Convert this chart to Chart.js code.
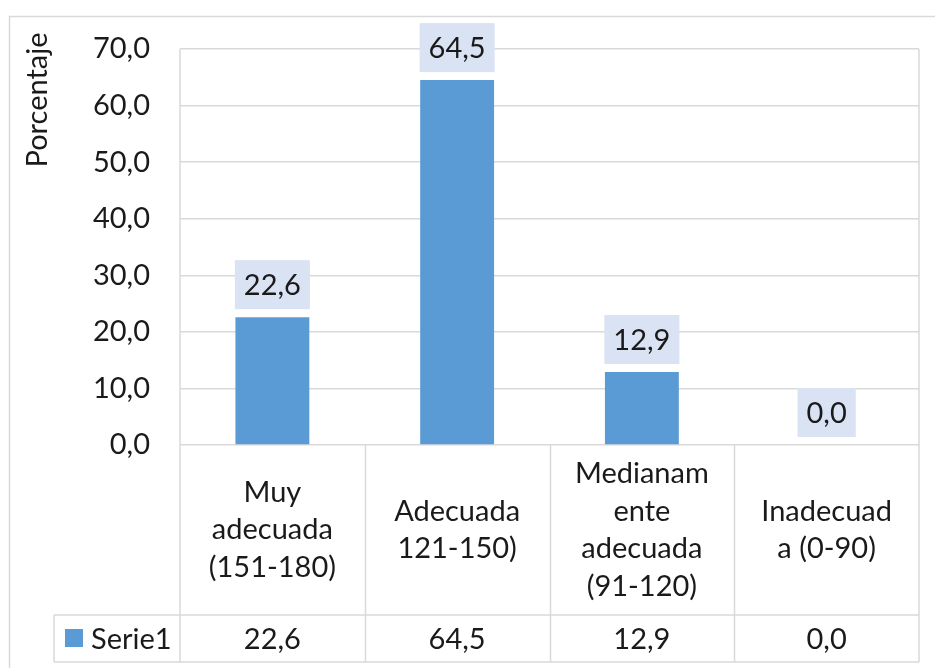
<!DOCTYPE html>
<html>
<head>
<meta charset="utf-8">
<script src="https://cdn.jsdelivr.net/npm/chart.js@4/dist/chart.umd.min.js"></script>
<style>
  body { margin: 0; background: #fff; }
  canvas { display: block; }
</style>
</head>
<body>
<canvas id="chart0" width="935" height="668"></canvas>
<script>
// datos del grafico
const categorias = ['Muy adecuada (151-180)', 'Adecuada 121-150)', 'Medianamente adecuada (91-120)', 'Inadecuada (0-90)'];
const lineasCategoria = [
    ['Muy', 'adecuada', '(151-180)'],
    ['Adecuada', '121-150)'],
    ['Medianam', 'ente', 'adecuada', '(91-120)'],
    ['Inadecuad', 'a (0-90)']
];
const serie1 = [22.6, 64.5, 12.9, 0.0];
const nombreSerie = 'Serie1';
const tituloEjeY = 'Porcentaje';

const FUENTE = 'Lato, "Open Sans", sans-serif';
const TAM = 29;
const GRIS = '#d9d9d9';
const TEXTO = '#1a1a1a';
const AZUL = '#5b9bd5';

const fmt = v => v.toFixed(1).replace('.', ',');

// etiquetas de datos con caja celeste
const etiquetas = {
    id: 'etiquetas',
    afterDatasetsDraw(chart) {
        const ctx = chart.ctx;
        const meta = chart.getDatasetMeta(0);
        ctx.save();
        ctx.font = TAM + 'px ' + FUENTE;
        ctx.textAlign = 'center';
        ctx.textBaseline = 'middle';
        meta.data.forEach((bar, i) => {
            const txt = fmt(serie1[i]);
            const w = ctx.measureText(txt).width + 18;
            const h = 49;
            const bottom = bar.y - 8;
            ctx.fillStyle = '#dae3f3';
            ctx.fillRect(bar.x - w / 2, bottom - h, w, h);
            ctx.fillStyle = TEXTO;
            ctx.fillText(txt, bar.x, bottom - h / 2 + 1);
        });
        ctx.restore();
    }
};

// tabla de datos debajo del grafico
const tabla = {
    id: 'tabla',
    afterDraw(chart) {
        const ctx = chart.ctx;
        const x = chart.scales.x;
        const area = chart.chartArea;
        const n = categorias.length;
        const ancho = (area.right - area.left) / n;
        const yFila = 615, yFin = 662, xLeyenda = 54;
        ctx.save();
        ctx.strokeStyle = GRIS;
        ctx.lineWidth = 1.5;
        ctx.beginPath();
        // borde exterior
        ctx.moveTo(9, 16.5); ctx.lineTo(935, 16.5);
        ctx.moveTo(9.5, 16); ctx.lineTo(9.5, 668);
        // bordes del area de trazado
        ctx.moveTo(area.left, area.top); ctx.lineTo(area.left, yFin);
        ctx.moveTo(area.right, area.top); ctx.lineTo(area.right, yFin);
        for (let i = 1; i < n; i++) {
            const xx = Math.round(area.left + i * ancho) + 0.5;
            ctx.moveTo(xx, area.bottom); ctx.lineTo(xx, yFin);
        }
        ctx.moveTo(xLeyenda, yFila); ctx.lineTo(area.right, yFila);
        ctx.moveTo(xLeyenda, yFin); ctx.lineTo(area.right, yFin);
        ctx.moveTo(xLeyenda, yFila); ctx.lineTo(xLeyenda, yFin);
        ctx.stroke();

        ctx.font = TAM + 'px ' + FUENTE;
        ctx.fillStyle = TEXTO;
        ctx.textAlign = 'center';
        ctx.textBaseline = 'middle';
        const lh = 37.5;
        const centro = (area.bottom + yFila) / 2;
        lineasCategoria.forEach((lineas, i) => {
            const cx = x.getPixelForValue(i);
            const y0 = centro - (lineas.length - 1) * lh / 2;
            lineas.forEach((l, j) => ctx.fillText(l, cx, y0 + j * lh));
            ctx.fillText(fmt(serie1[i]), cx, (yFila + yFin) / 2 + 1);
        });
        // leyenda
        ctx.fillStyle = AZUL;
        ctx.fillRect(65, 629, 18, 18);
        ctx.fillStyle = TEXTO;
        ctx.textAlign = 'left';
        ctx.fillText(nombreSerie, 91, (yFila + yFin) / 2 + 1);

        // titulo del eje
        ctx.translate(38, 100);
        ctx.rotate(-Math.PI / 2);
        ctx.textAlign = 'center';
        ctx.fillText(tituloEjeY, 0, 0);
        ctx.restore();
    }
};

const ctx = document.getElementById('chart0').getContext('2d');
const chart0 = new Chart(ctx, {
    type: 'bar',
    data: {
        labels: categorias,
        datasets: [{
            label: nombreSerie,
            data: serie1,
            backgroundColor: AZUL,
            borderWidth: 0,
            barPercentage: 0.4,
            categoryPercentage: 1
        }]
    },
    options: {
        responsive: false,
        animation: false,
        devicePixelRatio: 1,
        layout: { padding: { top: 49, right: 16, bottom: 223, left: 0 } },
        plugins: {
            legend: { display: false },
            tooltip: { enabled: false }
        },
        scales: {
            x: { display: false },
            y: {
                min: 0,
                max: 70,
                afterFit: s => { s.width = 180; },
                border: { display: false },
                grid: { color: GRIS, lineWidth: 1.5, drawTicks: false },
                ticks: {
                    stepSize: 10,
                    padding: 30,
                    color: TEXTO,
                    font: { family: FUENTE, size: TAM },
                    callback: v => fmt(v)
                }
            }
        }
    },
    plugins: [etiquetas, tabla]
});
</script>
</body>
</html>
